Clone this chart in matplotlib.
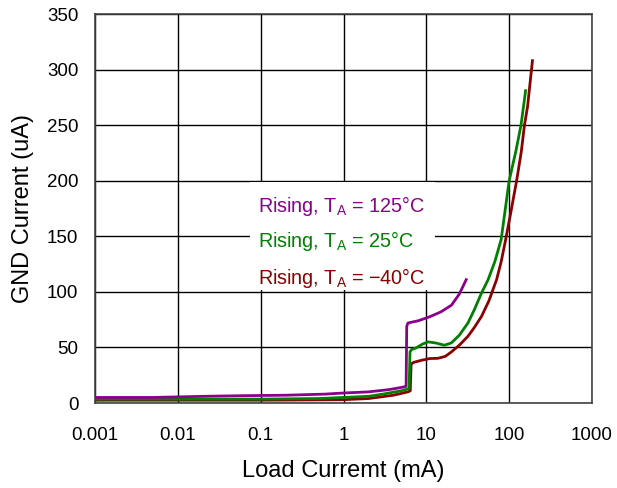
import numpy as np
import matplotlib.pyplot as plt

plt.rcParams['font.family'] = ['Liberation Sans', 'DejaVu Sans']

# load current (mA) vs GND current (uA)
x_125 = [0.001, 0.005, 0.02, 0.05, 0.2, 0.6, 1.0, 2.0, 3.5, 5.0, 5.7, 5.8, 6.0,
         8.0, 10.9, 15.0, 20.1, 25.0, 30.3]
y_125 = [5.0, 5.0, 6.0, 6.5, 7.0, 8.0, 9.0, 10.0, 12.0, 14.0, 15.0, 69.0, 72.0,
         74.0, 77.5, 82.0, 88.0, 98.0, 111.0]

x_25 = [0.001, 0.01, 0.1, 0.5, 1.0, 2.0, 3.0, 5.0, 6.2, 6.35, 6.6, 7.5, 9.0,
        10.5, 13.0, 16.5, 20.0, 25.0, 31.8, 38.0, 46.4, 55.7, 67.0, 80.0, 100.0,
        120.0, 139.0, 158.0]
y_25 = [3.5, 3.5, 3.5, 4.0, 5.0, 6.0, 8.0, 11.0, 13.0, 46.0, 48.0, 49.5, 53.0,
        55.0, 54.0, 52.0, 54.0, 61.0, 72.0, 84.0, 99.0, 111.0, 127.0, 147.0,
        200.0, 226.0, 250.0, 281.0]

x_m40 = [0.001, 0.01, 0.1, 0.5, 1.0, 2.0, 4.0, 6.0, 6.4, 6.55, 7.0, 8.8, 11.0,
         13.8, 17.0, 20.1, 25.0, 31.8, 38.0, 46.4, 57.0, 70.5, 80.0, 90.7,
         105.0, 123.0, 140.0, 153.0, 167.0, 180.0, 191.0]
y_m40 = [2.5, 2.5, 2.5, 2.8, 3.0, 4.0, 7.0, 10.0, 11.0, 35.0, 36.5, 38.5, 40.0,
         40.2, 42.0, 46.0, 52.0, 60.0, 68.0, 78.0, 92.0, 111.0, 127.0, 147.0,
         172.0, 200.0, 226.0, 250.0, 267.0, 290.0, 308.0]

labels = ['Rising, T$_\\mathregular{A}$ = 125°C',
          'Rising, T$_\\mathregular{A}$ = 25°C',
          'Rising, T$_\\mathregular{A}$ = \u221240°C']
label_y = [177, 145.5, 112.5]
colors = ['#8B008B', '#008000', '#8B0000']

x_ticks = [0.001, 0.01, 0.1, 1, 10, 100, 1000]
x_ticklabels = ['0.001', '0.01', '0.1', '1', '10', '100', '1000']
y_ticks = [0, 50, 100, 150, 200, 250, 300, 350]

fig = plt.figure(figsize=(6.17, 4.88), dpi=100)
ax = fig.add_axes([95 / 617, 85 / 488, 497 / 617, 389 / 488])

for xs, ys, c in zip([x_m40, x_25, x_125], [y_m40, y_25, y_125], colors[::-1]):
    ax.plot(xs, ys, color=c, linewidth=2.0, zorder=3)

ax.set_xscale('log')
ax.set_xlim(0.001, 1000)
ax.set_ylim(0, 350)
ax.set_xticks(x_ticks)
ax.set_xticklabels(x_ticklabels)
ax.minorticks_off()
ax.set_yticks(y_ticks)
ax.tick_params(length=0, labelsize=13.5)
ax.tick_params(axis='x', pad=17)
ax.tick_params(axis='y', pad=12)
ax.grid(True, color='black', linewidth=1.0)
ax.set_axisbelow(True)
for s in ax.spines.values():
    s.set_color('#444444')
    s.set_linewidth(1.2)

ax.set_xlabel('Load Curremt (mA)', fontsize=17, labelpad=12)
ax.set_ylabel('GND Current (uA)', fontsize=17, labelpad=9)

# white box behind the labels hides the grid
ax.fill_between([0.0743, 12.7], 101.5, 198.5, color='white', zorder=2, linewidth=0)
for lab, yy, c in zip(labels, label_y, colors):
    ax.text(0.093, yy, lab, color=c, fontsize=14.2,
            va='center', ha='left', zorder=4)

fig.savefig('out.png', dpi=100)
